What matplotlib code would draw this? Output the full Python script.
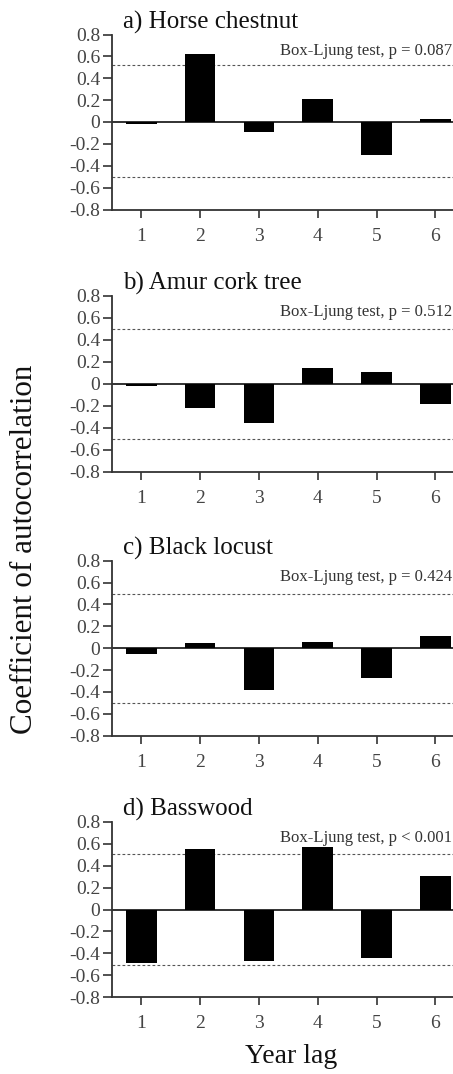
"""Autocorrelation of seed production at year lags 1-6 for four tree species."""
import matplotlib
matplotlib.use("Agg")
import matplotlib.pyplot as plt

plt.rcParams["font.family"] = ["Liberation Serif", "DejaVu Serif"]
plt.rcParams["axes.unicode_minus"] = False

lags = [1, 2, 3, 4, 5, 6]
titles = ["a) Horse chestnut", "b) Amur cork tree", "c) Black locust", "d) Basswood"]
p_texts = ["Box-Ljung test, p = 0.087", "Box-Ljung test, p = 0.512",
           "Box-Ljung test, p = 0.424", "Box-Ljung test, p < 0.001"]
acf_horse = [-0.021, 0.625, -0.088, 0.213, -0.299, 0.030]
acf_amur = [-0.015, -0.218, -0.355, 0.14, 0.112, -0.179]
acf_locust = [-0.055, 0.046, -0.378, 0.061, -0.268, 0.113]
acf_bass = [-0.486, 0.554, -0.474, 0.572, -0.44, 0.309]
conf_upper = [0.52, 0.5, 0.5, 0.505]
conf_lower = [-0.503, -0.505, -0.5, -0.505]
yticks = [0.8, 0.6, 0.4, 0.2, 0, -0.2, -0.4, -0.6, -0.8]

series = [acf_horse, acf_amur, acf_locust, acf_bass]

W, H = 453, 1074
fig = plt.figure(figsize=(W / 100, H / 100), dpi=100)

panels_px = [(34.5, 209.5), (295.7, 472), (560.7, 735.7), (822, 997)]
left_px = 112
spine_col = "#333333"
label_col = "#444444"

for i, (top, bot) in enumerate(panels_px):
    ax = fig.add_axes([left_px / W, 1 - bot / H, 1 - left_px / W, (bot - top) / H])
    ax.bar(lags, series[i], width=0.52, color="black", zorder=3)
    ax.axhline(0, color="#222222", lw=1.3, zorder=2)
    ax.axhline(conf_upper[i], color="#555555", lw=0.8, ls=(0, (2.5, 2)), zorder=1)
    ax.axhline(conf_lower[i], color="#555555", lw=0.8, ls=(0, (2.5, 2)), zorder=1)
    ax.set_xlim(0.502, 6.30)
    ax.set_ylim(-0.8, 0.8)
    ax.set_yticks(yticks)
    ax.set_yticklabels(["0" if v == 0 else f"{v:.1f}" for v in yticks])
    ax.set_xticks(lags)
    ax.set_xticklabels([str(v) for v in lags])
    for s in ("top", "right"):
        ax.spines[s].set_visible(False)
    for s in ("left", "bottom"):
        ax.spines[s].set_color(spine_col)
        ax.spines[s].set_linewidth(1.3)
    ax.tick_params(axis="y", direction="out", length=6.5, width=1.2, color=spine_col,
                   labelsize=14, labelcolor=label_col, pad=2)
    ax.tick_params(axis="x", direction="out", length=6, width=1.2, color=spine_col,
                   labelsize=14, labelcolor=label_col, pad=7)
    ax.text(0.032, 1.035, titles[i], transform=ax.transAxes, fontsize=18,
            ha="left", va="baseline", color="#111111")
    ax.text(0.997, 0.615, p_texts[i], transform=ax.get_yaxis_transform(), fontsize=12,
            ha="right", va="baseline", color="#333333")

fig.text(0.055, 0.489, "Coefficient of autocorrelation", rotation=90, fontsize=22.4,
         ha="center", va="center", color="#111111")
fig.text(0.642, 0.016, "Year lag", fontsize=20, ha="center", va="center", color="#111111")

fig.savefig("out.png", dpi=100)
